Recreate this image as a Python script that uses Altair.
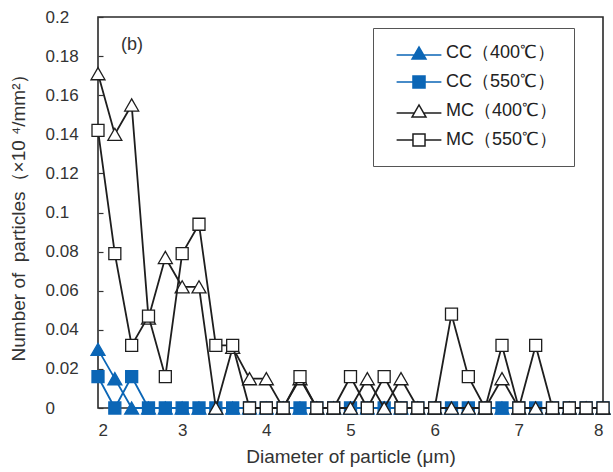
import altair as alt
import pandas as pd

# Particle size classes (µm)
diameter = [2.0, 2.2, 2.4, 2.6, 2.8, 3.0, 3.2, 3.4, 3.6, 3.8, 4.0,
            4.2, 4.4, 4.6, 4.8, 5.0, 5.2, 5.4, 5.6, 5.8, 6.0,
            6.2, 6.4, 6.6, 6.8, 7.0, 7.2, 7.4, 7.6, 7.8, 8.0]

# Number of particles (x10^4 / mm^2) per size class
cc_400 = [0.030, 0.015, 0, 0, 0, 0, 0, 0, 0, 0, 0,
          0, 0, 0, 0, 0, 0, 0, 0, 0, 0,
          0, 0, 0, 0, 0, 0, 0, 0, 0, 0]
cc_550 = [0.016, 0, 0.016, 0, 0, 0, 0, 0, 0, 0, 0,
          0, 0, 0, 0, 0, 0, 0, 0, 0, 0,
          0, 0, 0, 0, 0, 0, 0, 0, 0, 0]
mc_400 = [0.171, 0.140, 0.155, 0.046, 0.077, 0.062, 0.062, 0, 0.031, 0.015, 0.015,
          0, 0.015, 0, 0, 0, 0.015, 0, 0.015, 0, 0,
          0, 0, 0, 0.015, 0, 0, 0, 0, 0, 0]
mc_550 = [0.142, 0.079, 0.032, 0.047, 0.016, 0.079, 0.094, 0.032, 0.032, 0, 0,
          0, 0.016, 0, 0, 0.016, 0, 0.016, 0, 0, 0,
          0.048, 0.016, 0, 0.032, 0, 0.032, 0, 0, 0, 0]

series_names = ["CC（400℃）", "CC（550℃）", "MC（400℃）", "MC（550℃）"]
series_values = [cc_400, cc_550, mc_400, mc_550]

y_ticks = [0, 0.02, 0.04, 0.06, 0.08, 0.1, 0.12, 0.14, 0.16, 0.18, 0.2]
x_ticks = [2, 3, 4, 5, 6, 7, 8]

BLUE = "#0b66b6"
BLACK = "#1e1e1e"
TEXT = "#333333"
FONT = "Liberation Sans"

line_colors = [BLUE, BLUE, BLACK, BLACK]
fill_colors = [BLUE, BLUE, "#ffffff", "#ffffff"]
marker_shapes = ["triangle-up", "square", "triangle-up", "square"]
marker_sizes = [196, 144, 196, 144]

# Legend glyphs: a short line with the marker in the middle
legend_glyphs = [
    "M-3.2,0.3H3.2M-1,0.87L0,-0.87L1,0.87Z",
    "M-3.2,0H3.2M-0.86,-0.86H0.86V0.86H-0.86Z",
    "M-3.2,0.3H-0.67M0.67,0.3H3.2M-1,0.87L0,-0.87L1,0.87Z",
    "M-3.2,0H-0.86M0.86,0H3.2M-0.86,-0.86H0.86V0.86H-0.86Z",
]

rows = []
for name, vals in zip(series_names, series_values):
    for d, v in zip(diameter, vals):
        rows.append({"diameter": d, "count": v, "series": name})
df = pd.DataFrame(rows)

x_scale = alt.Scale(domain=[2, 8], nice=False, zero=False)
y_scale = alt.Scale(domain=[0, 0.2], nice=False)

x_axis = alt.Axis(
    orient="bottom", values=x_ticks, format="~g", title="Diameter of particle (μm)",
    grid=False, domain=False, ticks=False, tickSize=0, labelPadding=14,
    labelFontSize=17, labelFont=FONT, labelColor=TEXT,
    titleFontSize=19, titleFont=FONT, titleFontWeight="normal", titleColor=TEXT,
    titlePadding=9,
)
# Labels share a common left edge; the zero label is pushed right with
# figure/punctuation spaces. Short grid dashes act as inward ticks.
y_axis = alt.Axis(
    orient="left", values=y_ticks, format="~g",
    title="Number of\u00a0\u00a0particles（×10\u00a0⁴/mm²）",
    labelExpr="datum.value == 0 ? '\u2007\u2008\u20070' : datum.label",
    grid=True, gridColor=TEXT, gridWidth=1.2, gridDash=[5, 2000],
    domain=False, ticks=False, tickSize=0, labelPadding=53,
    labelAlign="left",
    labelFontSize=17, labelFont=FONT, labelColor=TEXT,
    titleFontSize=19, titleFont=FONT, titleFontWeight="normal", titleColor=TEXT,
    titlePadding=17,
)

x_enc = alt.X("diameter:Q", scale=x_scale, axis=x_axis)
y_enc = alt.Y("count:Q", scale=y_scale, axis=y_axis)

layers = []
for i, name in enumerate(series_names):
    base = alt.Chart(df).transform_filter(alt.datum.series == name).encode(x=x_enc, y=y_enc)
    line = base.mark_line(color=line_colors[i], strokeWidth=1.8)
    pts = base.mark_point(
        shape=marker_shapes[i], filled=True, fill=fill_colors[i], stroke=line_colors[i],
        strokeWidth=1.3, size=marker_sizes[i], opacity=1,
    )
    layers += [line, pts]

legend = alt.Legend(
    orient="none", legendX=275, legendY=11, title=None,
    padding=16, rowPadding=9, symbolSize=196, symbolOffset=21, labelOffset=18,
    symbolStrokeWidth=1.5, strokeColor="#555555", fillColor="#ffffff",
    labelFont=FONT, labelFontSize=18, labelColor="#222222", labelLimit=300,
)
legend_layer = alt.Chart(df).transform_filter("false").mark_point(
    filled=True, size=196, strokeWidth=1.5, opacity=1
).encode(
    x=x_enc,
    y=y_enc,
    shape=alt.Shape("series:N", scale=alt.Scale(domain=series_names, range=legend_glyphs), legend=legend),
    fill=alt.Fill("series:N", scale=alt.Scale(domain=series_names, range=fill_colors), legend=legend),
    stroke=alt.Stroke("series:N", scale=alt.Scale(domain=series_names, range=line_colors), legend=legend),
)

panel_tag = alt.Chart(pd.DataFrame({"tag": ["(b)"]})).mark_text(
    align="left", baseline="middle", fontSize=18, font=FONT, color=TEXT
).encode(x=alt.value(23), y=alt.value(28), text="tag:N")

chart = alt.layer(*layers, legend_layer, panel_tag).properties(
    width=505, height=391,
    autosize=alt.AutoSizeParams(type="none"),
    padding={"left": 98, "top": 17, "right": 10, "bottom": 64},
).configure_view(stroke="#2a2a2a", strokeWidth=1.6)

chart.save("out.html", embed_options={"renderer": "svg", "actions": False})
